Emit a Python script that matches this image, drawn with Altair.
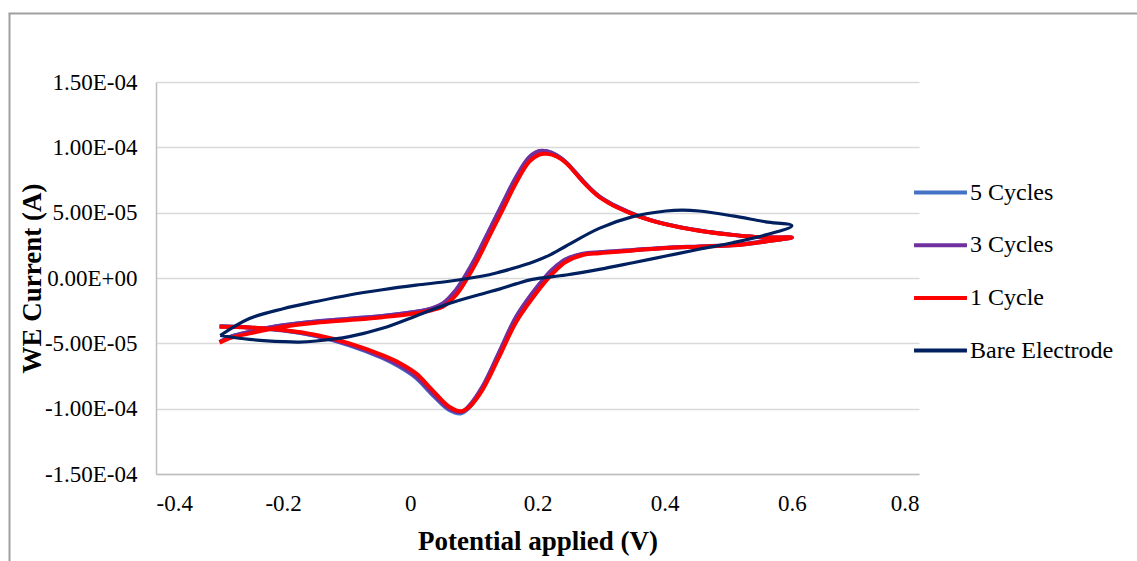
import altair as alt
import pandas as pd

# Cyclic voltammograms: potential (V) vs working-electrode current (A)
SERIES = ["5 Cycles", "3 Cycles", "1 Cycle", "Bare Electrode"]
COLORS = ["#4472C4", "#7030A0", "#FF0000", "#002060"]

# Modified electrode scans: forward sweep -0.3 -> 0.6 V, then back to -0.3 V
E_MOD = [-0.300, -0.280, -0.253, -0.200, -0.148, -0.096, -0.044, 0.009, 0.035,
         0.051, 0.072, 0.088, 0.103, 0.124, 0.145, 0.166, 0.187, 0.203, 0.215,
         0.230, 0.245, 0.271, 0.284, 0.297, 0.310, 0.323, 0.360, 0.402, 0.454,
         0.507, 0.559, 0.600,
         0.559, 0.507, 0.454, 0.402, 0.350, 0.297, 0.271, 0.245, 0.229, 0.219,
         0.192, 0.166, 0.140, 0.113, 0.093, 0.080, 0.061, 0.035, 0.009, -0.017,
         -0.044, -0.096, -0.148, -0.200, -0.253, -0.300]

I_1CYCLE = [-4.95, -4.55, -4.24, -3.73, -3.42, -3.22, -3.00, -2.70, -2.45,
            -2.20, -1.30, -0.15, 1.12, 3.16, 5.20, 7.25, 8.90, 9.45, 9.50,
            9.30, 8.80, 7.40, 6.75, 6.20, 5.80, 5.45, 4.70, 4.10, 3.62,
            3.30, 3.10, 3.10,
            2.80, 2.50, 2.40, 2.30, 2.10, 1.90, 1.76, 1.25, 0.60, 0.10,
            -1.55, -3.40, -6.00, -8.60, -9.85, -10.20, -9.85, -8.60, -7.30, -6.50,
            -5.90, -5.00, -4.36, -3.98, -3.78, -3.73]

I_3CYCLES = [-4.90, -4.45, -4.12, -3.62, -3.32, -3.12, -2.90, -2.58, -2.30,
             -1.95, -0.90, 0.30, 1.60, 3.65, 5.70, 7.70, 9.25, 9.72, 9.70,
             9.40, 8.85, 7.45, 6.80, 6.25, 5.85, 5.50, 4.72, 4.12, 3.63,
             3.30, 3.10, 3.10,
             2.82, 2.52, 2.42, 2.32, 2.15, 1.98, 1.85, 1.45, 0.90, 0.45,
             -1.15, -3.00, -5.65, -8.35, -9.75, -10.25, -10.00, -8.85, -7.55, -6.70,
             -6.05, -5.10, -4.42, -4.00, -3.78, -3.70]

I_5CYCLES = [-4.90, -4.45, -4.12, -3.62, -3.32, -3.12, -2.90, -2.58, -2.32,
             -1.98, -0.95, 0.25, 1.55, 3.60, 5.65, 7.65, 9.20, 9.70, 9.68,
             9.40, 8.85, 7.45, 6.80, 6.25, 5.85, 5.50, 4.72, 4.12, 3.63,
             3.30, 3.10, 3.10,
             2.80, 2.50, 2.40, 2.30, 2.12, 1.95, 1.82, 1.40, 0.85, 0.40,
             -1.20, -3.05, -5.70, -8.45, -9.90, -10.35, -10.10, -8.95, -7.65, -6.80,
             -6.12, -5.15, -4.45, -4.02, -3.80, -3.72]

# Bare electrode scan
E_BARE = [-0.299, -0.253, -0.200, -0.148, -0.096, -0.044, 0.009, 0.061, 0.114,
          0.140, 0.166, 0.192, 0.219, 0.245, 0.297, 0.350, 0.402, 0.428, 0.454,
          0.507, 0.559, 0.600,
          0.559, 0.507, 0.454, 0.402, 0.350, 0.297, 0.245, 0.192, 0.166, 0.140,
          0.114, 0.061, 0.009, -0.044, -0.096, -0.148, -0.175, -0.200, -0.253,
          -0.299]
I_BARE = [-4.40, -3.10, -2.35, -1.80, -1.30, -0.90, -0.55, -0.25, 0.15,
          0.45, 0.80, 1.20, 1.75, 2.45, 3.80, 4.70, 5.13, 5.20, 5.13,
          4.75, 4.30, 4.00,
          3.30, 2.70, 2.20, 1.68, 1.17, 0.66, 0.23, -0.10, -0.45, -0.85,
          -1.20, -1.95, -2.90, -3.85, -4.49, -4.82, -4.90, -4.87, -4.70,
          -4.40]

X_TICKS = [-0.4, -0.2, 0.0, 0.2, 0.4, 0.6, 0.8]
Y_TICKS = [-1.5e-4, -1.0e-4, -5.0e-5, 0.0, 5.0e-5, 1.0e-4, 1.5e-4]

SCALE_I = 1e-5  # current arrays above are in units of 1e-5 A


def frame(name, e_vals, i_vals):
    return pd.DataFrame({
        "series": name,
        "E": e_vals,
        "I": [v * SCALE_I for v in i_vals],
        "idx": list(range(len(e_vals))),
    })


data = {
    "5 Cycles": frame("5 Cycles", E_MOD, I_5CYCLES),
    "3 Cycles": frame("3 Cycles", E_MOD, I_3CYCLES),
    "1 Cycle": frame("1 Cycle", E_MOD, I_1CYCLE),
    "Bare Electrode": frame("Bare Electrode", E_BARE, I_BARE),
}

FONT = "Liberation Serif"

y_label_expr = (
    "replace(replace(replace(replace(upper(format(datum.value, '.2e')), "
    "'\u2212', '-'), 'E-4', 'E-04'), 'E-5', 'E-05'), 'E+0', 'E+00')"
)

x_axis = alt.Axis(
    values=X_TICKS, format=".1~f", labelExpr="replace(datum.label, '\u2212', '-')",
    grid=False, ticks=False, domainColor="#BFBFBF", domainWidth=1.5,
    labelFont=FONT, labelFontSize=23, labelColor="black", labelPadding=18,
    title="Potential applied (V)", titleFont=FONT, titleFontSize=27,
    titleFontWeight="bold", titleColor="black", titleY=75,
    titleBaseline="alphabetic",
)
y_axis = alt.Axis(
    values=Y_TICKS, labelExpr=y_label_expr,
    grid=True, gridColor="#D9D9D9", gridWidth=1.5, ticks=False,
    domainColor="#BFBFBF", domainWidth=1.5,
    labelFont=FONT, labelFontSize=23, labelColor="black", labelPadding=19,
    title="WE Current (A)", titleFont=FONT, titleFontSize=27,
    titleFontWeight="bold", titleColor="black", titleAngle=270,
    titleX=-116, titleY=196, titleAlign="center", titleBaseline="alphabetic",
)

color = alt.Color(
    "series:N",
    scale=alt.Scale(domain=SERIES, range=COLORS),
    legend=alt.Legend(
        title=None, orient="none", legendX=756, legendY=82,
        symbolType="stroke", symbolSize=2800, symbolStrokeWidth=4,
        labelFont=FONT, labelFontSize=24, labelColor="black",
        labelOffset=1, rowPadding=11.7, padding=0,
    ),
)

widths = {"5 Cycles": 4, "3 Cycles": 4, "1 Cycle": 4, "Bare Electrode": 3.2}

layers = []
for name in SERIES:
    layers.append(
        alt.Chart(data[name]).mark_line(
            interpolate="catmull-rom", strokeWidth=widths[name]
        ).encode(
            x=alt.X("E:Q", scale=alt.Scale(domain=[-0.4, 0.8], nice=False), axis=x_axis),
            y=alt.Y("I:Q", scale=alt.Scale(domain=[-1.5e-4, 1.5e-4], nice=False), axis=y_axis),
            color=color,
            order="idx:Q",
        )
    )

# Outer chart-area border (left and top edges)
one = pd.DataFrame({"k": [0]})
border_left = alt.Chart(one).mark_rule(color="#A0A0A0", strokeWidth=2).encode(
    x=alt.value(-146.5), y=alt.value(-68.5), y2=alt.value(490)
)
border_top = alt.Chart(one).mark_rule(color="#A0A0A0", strokeWidth=2).encode(
    x=alt.value(-147.5), x2=alt.value(990), y=alt.value(-68.5)
)

chart = alt.layer(*layers, border_left, border_top).properties(
    width=763,
    height=392,
    autosize=alt.AutoSizeParams(type="none"),
    padding={"left": 156, "top": 82, "right": 218, "bottom": 87},
).configure(
    background="white", font=FONT
).configure_view(
    stroke=None
).configure_axis(
    labelFont=FONT, titleFont=FONT
).configure_legend(
    labelFont=FONT
)

chart.save("out.html", embed_options={"renderer": "svg", "actions": False})
